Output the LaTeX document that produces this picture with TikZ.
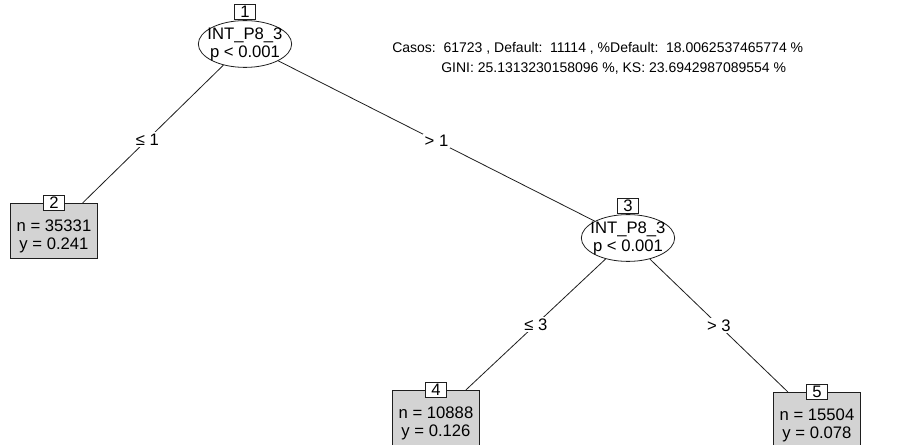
\documentclass[tikz,border=0pt]{standalone}
\usepackage{fontspec}
\setmainfont{Liberation Sans}
\usetikzlibrary{shapes.geometric}
\definecolor{LeafGray}{RGB}{211,211,211}
\definecolor{InkGray}{RGB}{30,30,30}

\begin{document}
\begin{tikzpicture}[x=0.75pt, y=-0.75pt, font=\fontsize{12.5}{13.5}\selectfont,
  split/.style={ellipse, draw=InkGray, fill=white, line width=0.6pt, minimum width=70pt, minimum height=34.5pt, inner sep=0pt, align=center},
  leaf/.style={rectangle, draw=InkGray, fill=LeafGray, line width=0.6pt, minimum width=65pt, minimum height=41.5pt, inner sep=0pt, align=center, text height=31pt},
  idbox/.style={rectangle, draw=InkGray, fill=white, line width=0.6pt, minimum width=16pt, minimum height=11.5pt, inner sep=0pt},
  elab/.style={fill=white, inner sep=1pt},
  edge/.style={draw=InkGray, line width=0.6pt}]
  \useasboundingbox[fill=white] (0,0) rectangle (908,445);
  % inner nodes
  \node[split] (n1) at (245,44) {\makebox[0pt]{INT\_P8\_3}\\\makebox[0pt]{p < 0.001}};
  \node[split] (n3) at (628,238) {\makebox[0pt]{INT\_P8\_3}\\\makebox[0pt]{p < 0.001}};
  % terminal nodes
  \node[leaf] (n2) at (54,231) {n = 35331\\y = 0.241};
  \node[leaf] (n4) at (436,418) {n = 10888\\y = 0.126};
  \node[leaf] (n5) at (817,420) {n = 15504\\y = 0.078};
  % node ids
  \node[idbox, anchor=south] (id1) at (n1.north) {1};
  \node[idbox, anchor=south] (id3) at (n3.north) {3};
  \node[idbox] (id2) at (n2.north) {2};
  \node[idbox] (id4) at (n4.north) {4};
  \node[idbox] (id5) at (n5.north) {5};
  % edges
  \draw[edge] (n1) -- (n2) node[elab, pos=0.54] (e12) {≤ 1};
  \draw[edge] (n1) -- (n3) node[elab, pos=0.5] (e13) {> 1};
  \draw[edge] (n3) -- (n4) node[elab, midway] (e34) {≤ 3};
  \draw[edge] (n3) -- (n5) node[elab, midway] (e35) {> 3};
  % summary
  \node[anchor=west, inner sep=0pt, font=\fontsize{10.5}{13.5}\selectfont] (casos) at (392,48) {Casos:\ \ 61723 , Default:\ \ 11114 , \%Default:\ \ 18.0062537465774 \%};
  \node[anchor=west, inner sep=0pt, font=\fontsize{10.5}{13.5}\selectfont] (gini) at (441,69) {GINI: 25.1313230158096 \%, KS: 23.6942987089554 \%};
\end{tikzpicture}
\end{document}
